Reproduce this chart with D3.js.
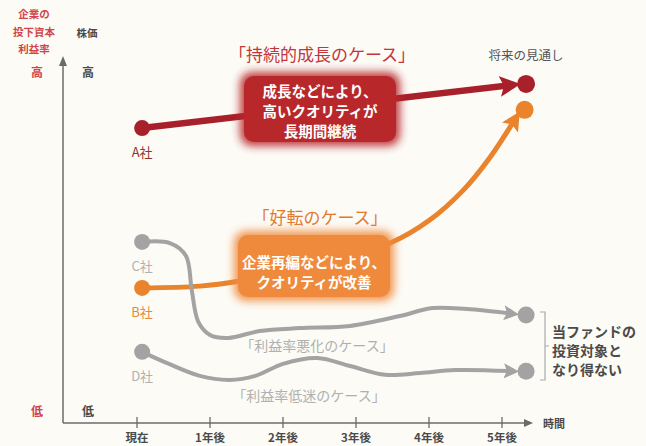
<!DOCTYPE html>
<html lang="ja">
<head>
<meta charset="utf-8">
<script src="https://d3js.org/d3.v7.min.js"></script>
<style>
  body { margin:0; background:#fcfbf6; }
  svg { display:block; font-family:"Noto Sans CJK JP", "Noto Sans", sans-serif; }
</style>
</head>
<body>
<div id="chart"></div>
<script>
// tick labels along the time axis
var years = ["現在", "1年後", "2年後", "3年後", "4年後", "5年後"];
var companies = ["A社", "B社", "C社", "D社"];

// each path is [years from now, level 0-100]
var pathA = [[0.07, 80.8], [5.14, 92.6]];
var pathB = [[0.07, 37.0], [0.86, 37.5], [1.41, 38.9], [2.51, 43.3], [3.47, 49.3],
             [4.01, 55.6], [4.47, 63.8], [4.84, 72.9], [5.19, 83.6]];
var pathC = [[0.07, 49.6], [0.45, 49.3], [0.67, 45.8], [0.75, 36.4], [0.84, 27.7],
             [1.0, 24.1], [1.25, 23.3], [1.68, 25.2], [2.23, 26.0], [2.92, 26.6],
             [3.6, 29.3], [4.05, 31.5], [4.52, 31.2], [5.15, 29.9]];
var pathD = [[0.07, 19.5], [0.38, 16.7], [0.86, 12.9], [1.27, 11.8], [1.62, 12.9],
             [2.0, 16.2], [2.47, 17.8], [2.92, 15.6], [3.4, 13.2], [3.88, 13.7],
             [4.36, 14.5], [5.15, 14.2]];
// future outlook dots
var endDots = [[5.33, 92.9], [5.31, 85.8], [5.33, 29.6], [5.33, 14.2]];

var colors = ["#a8202a", "#e9832c", "#a3a3a3", "#a3a3a3"];
var labelColors = ["#8e3434", "#e08a3e", "#b0b0b0", "#b0b0b0"];
var widths = [6.5, 5, 4, 4];

var W = 646, H = 446;
var svg = d3.select("#chart").append("svg").attr("width", W).attr("height", H);

var x = d3.scaleLinear().domain([0, 5]).range([137, 502]);
var y = d3.scaleLinear().domain([0, 100]).range([423, 58]);

var defs = svg.append("defs");
defs.append("filter").attr("id", "glow")
  .attr("x", "-20%").attr("y", "-30%").attr("width", "140%").attr("height", "160%")
  .append("feGaussianBlur").attr("stdDeviation", 4);

// arrow markers
colors.forEach(function(c, i) {
  defs.append("marker").attr("id", "arr" + i)
    .attr("viewBox", "0 0 10 10").attr("refX", 6).attr("refY", 5)
    .attr("markerWidth", i == 0 ? 3.2 : 3.8).attr("markerHeight", i == 0 ? 3.2 : 3.8)
    .attr("orient", "auto").attr("markerUnits", "strokeWidth")
    .append("path").attr("d", "M0,0 L10,5 L0,10 L2,5 Z").attr("fill", c);
});

// axes
var axisColor = "#6b6b6b";
svg.append("line").attr("x1", 63).attr("x2", 63).attr("y1", 62).attr("y2", 423)
  .attr("stroke", axisColor).attr("stroke-width", 1.5);
svg.append("path").attr("d", "M63,56 L59,66 L67,66 Z").attr("fill", axisColor);
svg.append("line").attr("x1", 63).attr("x2", 526).attr("y1", 423).attr("y2", 423)
  .attr("stroke", axisColor).attr("stroke-width", 1.5);
svg.append("path").attr("d", "M533,423 L524,419 L524,427 Z").attr("fill", axisColor);

var xAxis = svg.append("g").selectAll("g").data(years).enter().append("g")
  .attr("transform", function(d, i) { return "translate(" + x(i) + ",0)"; });
xAxis.append("line").attr("y1", 417).attr("y2", 428).attr("stroke", axisColor).attr("stroke-width", 1.3);
xAxis.append("text").attr("y", 442).attr("text-anchor", "middle")
  .attr("font-size", 11.5).attr("font-weight", "bold").attr("fill", "#4a4a4a")
  .text(function(d) { return d; });
svg.append("text").attr("x", 554).attr("y", 428).attr("text-anchor", "middle")
  .attr("font-size", 11).attr("font-weight", "bold").attr("fill", "#4a4a4a").text("時間");

// y axis labels
var red = "#d0454a";
[["企業の", 18], ["投下資本", 36], ["利益率", 53]].forEach(function(t) {
  svg.append("text").attr("x", 34).attr("y", t[1]).attr("text-anchor", "middle")
    .attr("font-size", 10.5).attr("font-weight", "bold").attr("fill", red).text(t[0]);
});
svg.append("text").attr("x", 87).attr("y", 37).attr("text-anchor", "middle")
  .attr("font-size", 10.5).attr("font-weight", "bold").attr("fill", "#4a4a4a").text("株価");
svg.append("text").attr("x", 37).attr("y", 77).attr("text-anchor", "middle")
  .attr("font-size", 12).attr("font-weight", "bold").attr("fill", red).text("高");
svg.append("text").attr("x", 88).attr("y", 77).attr("text-anchor", "middle")
  .attr("font-size", 12).attr("font-weight", "bold").attr("fill", "#4a4a4a").text("高");
svg.append("text").attr("x", 37).attr("y", 416).attr("text-anchor", "middle")
  .attr("font-size", 12).attr("font-weight", "bold").attr("fill", red).text("低");
svg.append("text").attr("x", 88).attr("y", 416).attr("text-anchor", "middle")
  .attr("font-size", 12).attr("font-weight", "bold").attr("fill", "#4a4a4a").text("低");

// lines
var line = d3.line().x(function(d) { return x(d[0]); }).y(function(d) { return y(d[1]); })
  .curve(d3.curveCatmullRom.alpha(0.5));
var paths = [pathA, pathB, pathC, pathD];
svg.append("g").selectAll("path").data(paths).enter().append("path")
  .attr("d", line).attr("fill", "none")
  .attr("stroke", function(d, i) { return colors[i]; })
  .attr("stroke-width", function(d, i) { return widths[i]; })
  .attr("stroke-linecap", "round")
  .attr("marker-end", function(d, i) { return "url(#arr" + i + ")"; });

// start dots + company labels
svg.append("g").selectAll("circle").data(paths).enter().append("circle")
  .attr("cx", function(d) { return x(d[0][0]); }).attr("cy", function(d) { return y(d[0][1]); })
  .attr("r", 8).attr("fill", function(d, i) { return colors[i]; });
svg.append("g").selectAll("text").data(paths).enter().append("text")
  .attr("x", function(d) { return x(d[0][0]); }).attr("y", function(d) { return y(d[0][1]) + 29; })
  .attr("text-anchor", "middle").attr("font-size", 13)
  .attr("fill", function(d, i) { return labelColors[i]; })
  .text(function(d, i) { return companies[i]; });

// end dots
svg.append("g").selectAll("circle").data(endDots).enter().append("circle")
  .attr("cx", function(d) { return x(d[0]); }).attr("cy", function(d) { return y(d[1]); })
  .attr("r", function(d, i) { return i < 2 ? 9 : 8.5; })
  .attr("fill", function(d, i) { return colors[i]; });

// boxes
function box(x0, y0, w, h, fill, lines, ly) {
  svg.append("rect").attr("x", x0).attr("y", y0).attr("width", w).attr("height", h)
    .attr("rx", 12).attr("fill", fill).attr("filter", "url(#glow)").attr("opacity", 0.9);
  svg.append("rect").attr("x", x0 + 4).attr("y", y0 + 4).attr("width", w - 8).attr("height", h - 8)
    .attr("rx", 10).attr("fill", fill);
  lines.forEach(function(t, i) {
    svg.append("text").attr("x", x0 + w / 2).attr("y", ly[i]).attr("text-anchor", "middle")
      .attr("font-size", 14.5).attr("font-weight", "bold").attr("fill", "#fff").text(t);
  });
}
box(240, 72, 160, 74, "#b8282b", ["成長などにより、", "高いクオリティが", "長期間継続"], [97, 117, 137]);
box(234, 231, 160, 70, "#ef8a3d", ["企業再編などにより、", "クオリティが改善"], [268, 288]);

// case titles
svg.append("text").attr("x", 322).attr("y", 61).attr("text-anchor", "middle")
  .attr("font-size", 17).attr("fill", "#c4353a").text("「持続的成長のケース」");
svg.append("text").attr("x", 320).attr("y", 224).attr("text-anchor", "middle")
  .attr("font-size", 17).attr("fill", "#e27a2e").text("「好転のケース」");
svg.append("text").attr("x", 317).attr("y", 351).attr("text-anchor", "middle")
  .attr("font-size", 14).attr("fill", "#b0b0b0").text("「利益率悪化のケース」");
svg.append("text").attr("x", 309).attr("y", 401).attr("text-anchor", "middle")
  .attr("font-size", 14).attr("fill", "#b0b0b0").text("「利益率低迷のケース」");
svg.append("text").attr("x", 526).attr("y", 60).attr("text-anchor", "middle")
  .attr("font-size", 12.5).attr("fill", "#555").text("将来の見通し");

// bracket + note
svg.append("path").attr("d", "M540,312 L545,312 L545,380 L540,380 M545,346 L549,346")
  .attr("fill", "none").attr("stroke", "#aaa").attr("stroke-width", 1.2);
[["当ファンドの", 337], ["投資対象と", 356], ["なり得ない", 375]].forEach(function(t) {
  svg.append("text").attr("x", 552).attr("y", t[1]).attr("font-size", 14)
    .attr("font-weight", "bold").attr("fill", "#4a4a4a").text(t[0]);
});
</script>
</body>
</html>
